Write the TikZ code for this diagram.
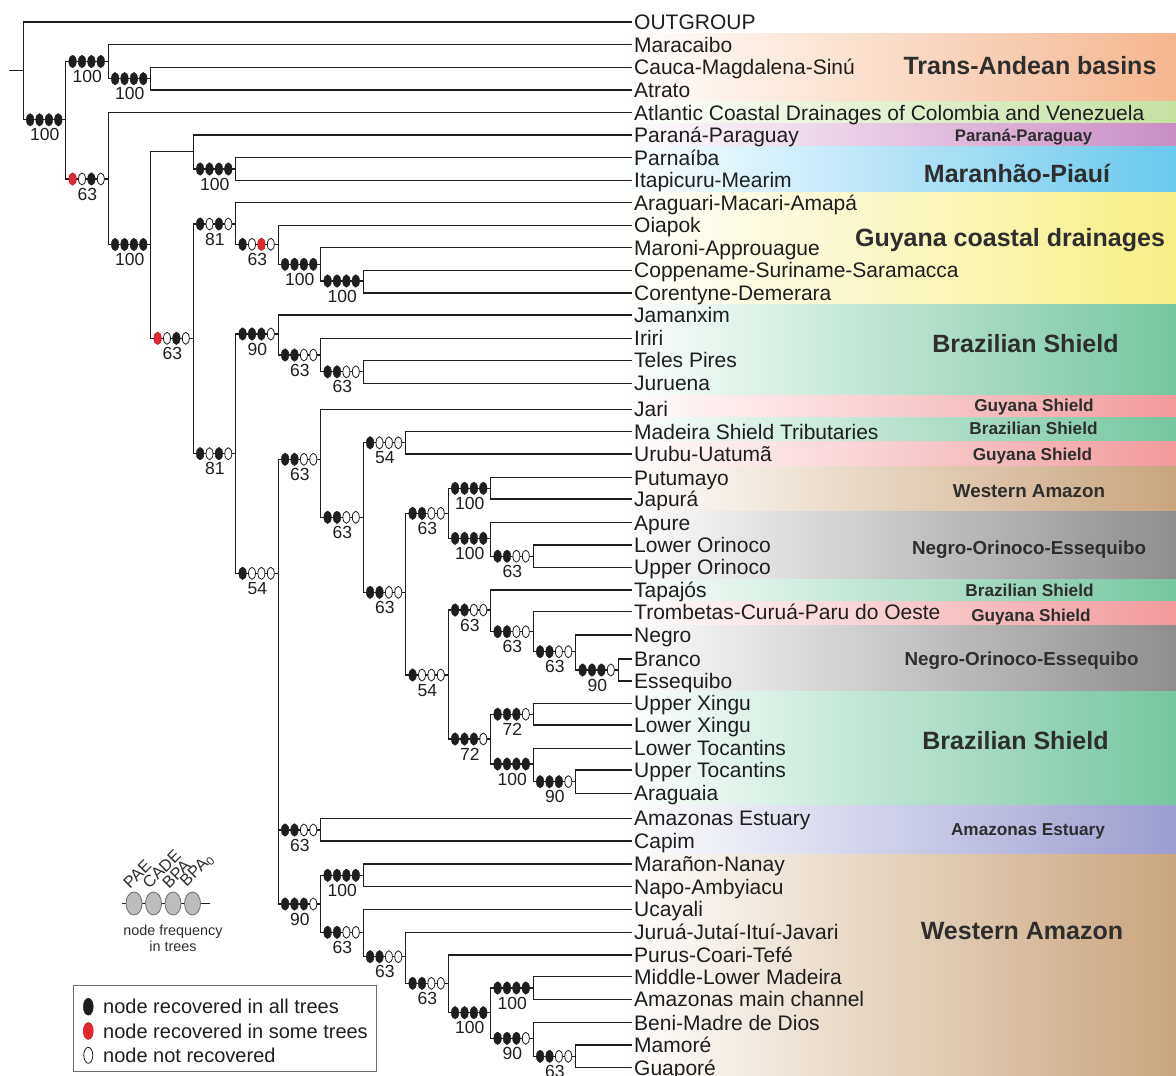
\documentclass[tikz,border=0pt]{standalone}
\usepackage{fontspec}
\setmainfont{Liberation Sans}
\usetikzlibrary{shapes.geometric}

\definecolor{ink}{HTML}{1E1E1E}
\definecolor{labink}{HTML}{2E2E2E}
\definecolor{dotred}{HTML}{E3262C}
\definecolor{dotgray}{HTML}{BDBDBD}
\definecolor{boxgray}{HTML}{6E6E6E}
% region colours (right end of each band)
\definecolor{cTA}{HTML}{F5B68E}
\definecolor{cAT}{HTML}{C5E1A0}
\definecolor{cPP}{HTML}{C98DC3}
\definecolor{cMP}{HTML}{6AC8EE}
\definecolor{cGC}{HTML}{F6EF86}
\definecolor{cBS}{HTML}{74C6A0}
\definecolor{cGS}{HTML}{F29A9E}
\definecolor{cWA}{HTML}{C9A57C}
\definecolor{cNO}{HTML}{8E8E8E}
\definecolor{cAE}{HTML}{9B9DD0}

% four support dots on the stem of a clade, plus its frequency value
\newcommand\nodesupport[3]{%
  \foreach \s [count=\i] in {#2}{%
    \node[\s] (#1d\i) at ([xshift={-7.5-9.4*(4-\i)}]#1) {};}%
  \node[supp] (#1n) at ([xshift=-21,yshift=-21]#1) {#3};}

\begin{document}
\begin{tikzpicture}[x=1pt,y=-1pt,
  edge/.style={draw=ink, line width=1.2},
  leaf/.style={anchor=west, inner xsep=2pt, inner ysep=0pt, text height=15pt,
    text depth=0pt, font=\fontsize{21}{21}\selectfont, text=ink},
  supp/.style={anchor=base, inner sep=0pt, font=\fontsize{17.5}{17.5}\selectfont, text=ink},
  dk/.style={ellipse, fill=ink, draw=ink, line width=0.4, minimum width=7.6,
    minimum height=12.6, inner sep=0pt},
  rd/.style={ellipse, fill=dotred, draw=dotred!75!black, line width=0.4,
    minimum width=7.6, minimum height=12.6, inner sep=0pt},
  op/.style={ellipse, fill=white, draw=ink, line width=0.8, minimum width=7,
    minimum height=12, inner sep=0pt},
  reg/.style={inner sep=0pt, text depth=0pt, text=labink},
  regA/.style={reg, text height=18pt, font=\bfseries\fontsize{25}{25}\selectfont},
  regB/.style={reg, text height=13.5pt, font=\bfseries\fontsize{18.8}{18.8}\selectfont},
  regC/.style={reg, text height=12.3pt, font=\bfseries\fontsize{17.2}{17.2}\selectfont},
  small/.style={inner sep=0pt, text=labink, font=\fontsize{14.4}{16}\selectfont},
  keylab/.style={inner sep=0pt, text=labink, font=\fontsize{16.5}{16.5}\selectfont,
    rotate=45, anchor=south west},
  gdot/.style={ellipse, fill=dotgray, draw=boxgray, line width=0.8,
    minimum width=16, minimum height=23, inner sep=0pt},
  lgtext/.style={anchor=west, inner sep=0pt, text height=14.4pt, text depth=0pt,
    font=\fontsize{20}{20}\selectfont, text=ink},
  lgdk/.style={dk, minimum width=10, minimum height=17},
  lgrd/.style={rd, minimum width=10, minimum height=17},
  lgop/.style={op, minimum width=9, minimum height=16},
]
\useasboundingbox (0,0) rectangle (1176,1076);

% ---------- coloured region bands ----------
\foreach \ya/\yb/\c in {33.3/101/cTA, 101/123.3/cAT, 123.3/146/cPP, 146/192/cMP,
  192/304/cGC, 304/395/cBS, 395/417.5/cGS, 417.5/441.7/cBS, 441.7/466.7/cGS,
  466.7/511/cWA, 511/579/cNO, 579/601.7/cBS, 601.7/625/cGS, 625/691.7/cNO,
  691.7/805/cBS, 805/854/cAE, 854/1076/cWA}
  \shade[left color=white, right color=\c] (620,\ya) rectangle (1176,\yb);

\node[regA] (rTA) at (1030,65) {Trans-Andean basins};
\node[regC, text height=12pt, font=\bfseries\fontsize{16.8}{16.8}\selectfont] (rPP) at (1023.5,135) {Paraná-Paraguay};
\node[regA] (rMP) at (1017,173) {Maranhão-Piauí};
\node[regA] (rGC) at (1010,237) {Guyana coastal drainages};
\node[regA] (rBS1) at (1025.5,343) {Brazilian Shield};
\node[regC] (rGS1) at (1034,405) {Guyana Shield};
\node[regC] (rBS2) at (1033.5,428.3) {Brazilian Shield};
\node[regC] (rGS2) at (1032.5,454.3) {Guyana Shield};
\node[regB] (rWA1) at (1029,490.7) {Western Amazon};
\node[regB] (rNO1) at (1029,547.3) {Negro-Orinoco-Essequibo};
\node[regC] (rBS3) at (1029.5,590.7) {Brazilian Shield};
\node[regC] (rGS3) at (1031,615) {Guyana Shield};
\node[regB] (rNO2) at (1021.5,658.3) {Negro-Orinoco-Essequibo};
\node[regA] (rBS4) at (1015.5,740) {Brazilian Shield};
\node[regC] (rAE) at (1028,829.3) {Amazonas Estuary};
\node[regA] (rWA2) at (1022,930.7) {Western Amazon};

% ---------- terminal areas ----------
\foreach \y/\t [count=\i from 0] in {22/OUTGROUP, 44.7/Maracaibo,
  67.3/Cauca-Magdalena-Sinú, 90/Atrato,
  112.7/Atlantic Coastal Drainages of Colombia and Venezuela,
  135/Paraná-Paraguay, 157.7/Parnaíba, 180.3/Itapicuru-Mearim,
  202.7/Araguari-Macari-Amapá, 225.3/Oiapok, 247.7/Maroni-Approuague,
  270.3/Coppename-Suriname-Saramacca, 293/Corentyne-Demerara,
  315/Jamanxim, 338.3/Iriri, 360.3/Teles Pires, 383.3/Juruena,
  409.3/Jari, 431.7/Madeira Shield Tributaries, 454/Urubu-Uatumã,
  477.7/Putumayo, 499/Japurá, 522.7/Apure, 545/Lower Orinoco,
  567.3/Upper Orinoco, 590/Tapajós, 611.7/Trombetas-Curuá-Paru do Oeste,
  635/Negro, 659/Branco, 681/Essequibo, 703.3/Upper Xingu,
  725/Lower Xingu, 748.3/Lower Tocantins, 770/Upper Tocantins,
  793.3/Araguaia, 818.3/Amazonas Estuary, 841/Capim, 864/Marañon-Nanay,
  886.7/Napo-Ambyiacu, 909.3/Ucayali, 932.3/Juruá-Jutaí-Ituí-Javari,
  955/Purus-Coari-Tefé, 976.7/Middle-Lower Madeira,
  999.3/Amazonas main channel, 1022.7/Beni-Madre de Dios, 1045/Mamoré,
  1067.7/Guaporé}
  \node[leaf] (l\i) at (632,\y) {\t};

% ---------- internal nodes (column x, clade y) ----------
\coordinate (stub) at (9,70.7);
\coordinate (root) at (23.3,70.7);
\coordinate (A)   at (65.8,119.8);
\coordinate (B)   at (108.3,61.5);
\coordinate (D)   at (150.8,78.7);
\coordinate (C)   at (108.3,179);
\coordinate (E)   at (150.8,244.5);
\coordinate (F)   at (193.3,151.7);
\coordinate (H)   at (235.8,169);
\coordinate (G)   at (193.3,338.3);
\coordinate (I)   at (235.8,224);
\coordinate (K)   at (278.3,244.3);
\coordinate (L)   at (320.8,264.3);
\coordinate (M)   at (363.3,281);
\coordinate (J)   at (235.8,453.7);
\coordinate (N)   at (278.3,334);
\coordinate (P)   at (320.8,355);
\coordinate (Q)   at (363.3,371.8);
\coordinate (O)   at (278.3,573.3);
\coordinate (R)   at (320.8,459.3);
\coordinate (T)   at (363.3,517.3);
\coordinate (U)   at (405.8,442.8);
\coordinate (V)   at (405.8,592.3);
\coordinate (W)   at (448.3,513.3);
\coordinate (Y)   at (490.8,488.3);
\coordinate (Z)   at (490.8,538.3);
\coordinate (AA)  at (533.3,556.2);
\coordinate (X)   at (448.3,675);
\coordinate (AB)  at (490.8,610);
\coordinate (AD)  at (533.3,631.7);
\coordinate (AE)  at (575.8,651.7);
\coordinate (AF)  at (618.3,670);
\coordinate (AC)  at (490.8,739);
\coordinate (AG)  at (533.3,714.2);
\coordinate (AH)  at (533.3,764);
\coordinate (AI)  at (575.8,781.7);
\coordinate (Est) at (320.8,830);
\coordinate (WA)  at (320.8,904);
\coordinate (AJ)  at (363.3,875.3);
\coordinate (AK)  at (363.3,932.3);
\coordinate (AL)  at (405.8,956.7);
\coordinate (AM)  at (448.3,983.3);
\coordinate (AN)  at (490.8,1012.7);
\coordinate (AO)  at (533.3,988);
\coordinate (AP)  at (533.3,1038.3);
\coordinate (AQ)  at (575.8,1056.3);

% ---------- branches ----------
\draw[edge]
 (stub) -- (root)
 (root) |- (l0.west)  (root) |- (A)
 (A) |- (B)  (A) |- (C)
 (B) |- (l1.west)  (B) |- (D)
 (D) |- (l2.west)  (D) |- (l3.west)
 (C) |- (l4.west)  (C) |- (E)
 (E) |- (F)  (E) |- (G)
 (F) |- (l5.west)  (F) |- (H)
 (H) |- (l6.west)  (H) |- (l7.west)
 (G) |- (I)  (G) |- (J)
 (I) |- (l8.west)  (I) |- (K)
 (K) |- (l9.west)  (K) |- (L)
 (L) |- (l10.west)  (L) |- (M)
 (M) |- (l11.west)  (M) |- (l12.west)
 (J) |- (N)  (J) |- (O)
 (N) |- (l13.west)  (N) |- (P)
 (P) |- (l14.west)  (P) |- (Q)
 (Q) |- (l15.west)  (Q) |- (l16.west)
 (O) |- (R)  (O) |- (Est)  (O) |- (WA)
 (R) |- (l17.west)  (R) |- (T)
 (T) |- (U)  (T) |- (V)
 (U) |- (l18.west)  (U) |- (l19.west)
 (V) |- (W)  (V) |- (X)
 (W) |- (Y)  (W) |- (Z)
 (Y) |- (l20.west)  (Y) |- (l21.west)
 (Z) |- (l22.west)  (Z) |- (AA)
 (AA) |- (l23.west)  (AA) |- (l24.west)
 (X) |- (AB)  (X) |- (AC)
 (AB) |- (l25.west)  (AB) |- (AD)
 (AD) |- (l26.west)  (AD) |- (AE)
 (AE) |- (l27.west)  (AE) |- (AF)
 (AF) |- (l28.west)  (AF) |- (l29.west)
 (AC) |- (AG)  (AC) |- (AH)
 (AG) |- (l30.west)  (AG) |- (l31.west)
 (AH) |- (l32.west)  (AH) |- (AI)
 (AI) |- (l33.west)  (AI) |- (l34.west)
 (Est) |- (l35.west)  (Est) |- (l36.west)
 (WA) |- (AJ)  (WA) |- (AK)
 (AJ) |- (l37.west)  (AJ) |- (l38.west)
 (AK) |- (l39.west)  (AK) |- (AL)
 (AL) |- (l40.west)  (AL) |- (AM)
 (AM) |- (l41.west)  (AM) |- (AN)
 (AN) |- (AO)  (AN) |- (AP)
 (AO) |- (l42.west)  (AO) |- (l43.west)
 (AP) |- (l44.west)  (AP) |- (AQ)
 (AQ) |- (l45.west)  (AQ) |- (l46.west);

% ---------- support on each clade ----------
\nodesupport{A}{dk,dk,dk,dk}{100}
\nodesupport{B}{dk,dk,dk,dk}{100}
\nodesupport{D}{dk,dk,dk,dk}{100}
\nodesupport{C}{rd,op,dk,op}{63}
\nodesupport{E}{dk,dk,dk,dk}{100}
\nodesupport{H}{dk,dk,dk,dk}{100}
\nodesupport{G}{rd,op,dk,op}{63}
\nodesupport{I}{dk,op,dk,op}{81}
\nodesupport{K}{dk,op,rd,op}{63}
\nodesupport{L}{dk,dk,dk,dk}{100}
\nodesupport{M}{dk,dk,dk,dk}{100}
\nodesupport{J}{dk,op,dk,op}{81}
\nodesupport{N}{dk,dk,dk,op}{90}
\nodesupport{P}{dk,dk,op,op}{63}
\nodesupport{Q}{dk,dk,op,op}{63}
\nodesupport{O}{dk,op,op,op}{54}
\nodesupport{R}{dk,dk,op,op}{63}
\nodesupport{T}{dk,dk,op,op}{63}
\nodesupport{U}{dk,op,op,op}{54}
\nodesupport{V}{dk,dk,op,op}{63}
\nodesupport{W}{dk,dk,op,op}{63}
\nodesupport{Y}{dk,dk,dk,dk}{100}
\nodesupport{Z}{dk,dk,dk,dk}{100}
\nodesupport{AA}{dk,dk,op,op}{63}
\nodesupport{X}{dk,op,op,op}{54}
\nodesupport{AB}{dk,dk,op,op}{63}
\nodesupport{AD}{dk,dk,op,op}{63}
\nodesupport{AE}{dk,dk,op,op}{63}
\nodesupport{AF}{dk,dk,dk,op}{90}
\nodesupport{AC}{dk,dk,dk,op}{72}
\nodesupport{AG}{dk,dk,dk,op}{72}
\nodesupport{AH}{dk,dk,dk,dk}{100}
\nodesupport{AI}{dk,dk,dk,op}{90}
\nodesupport{Est}{dk,dk,op,op}{63}
\nodesupport{WA}{dk,dk,dk,op}{90}
\nodesupport{AJ}{dk,dk,dk,dk}{100}
\nodesupport{AK}{dk,dk,op,op}{63}
\nodesupport{AL}{dk,dk,op,op}{63}
\nodesupport{AM}{dk,dk,op,op}{63}
\nodesupport{AN}{dk,dk,dk,dk}{100}
\nodesupport{AO}{dk,dk,dk,dk}{100}
\nodesupport{AP}{dk,dk,dk,op}{90}
\nodesupport{AQ}{dk,dk,op,op}{63}

% ---------- key to the four methods ----------
\coordinate (keyL) at (122,903.5);
\coordinate (keyR) at (210,903.5);
\draw[edge] (keyL) -- (keyR);
\foreach \n/\x/\t in {1/134/PAE, 2/153.5/CADE, 3/173/BPA, 4/192.5/BPA\textsubscript{0}}{
  \node[gdot] (g\n) at (\x,903.5) {};
  \node[keylab] (gt\n) at ([xshift=-4,yshift=2]g\n.north) {\t};
}
\node[small, align=center] (freq) at (173,938) {node frequency\\in trees};

% ---------- legend box ----------
\draw[draw=boxgray, line width=1] (73.3,985) rectangle (376.7,1071.7);
\node[lgdk] (k1) at (88.3,1006.7) {};
\node[lgrd] (k2) at (88.3,1031) {};
\node[lgop] (k3) at (88.3,1055.3) {};
\node[lgtext] (t1) at (103,1006.7) {node recovered in all trees};
\node[lgtext] (t2) at (103,1031) {node recovered in some trees};
\node[lgtext] (t3) at (103,1055.3) {node not recovered};
\end{tikzpicture}
\end{document}
